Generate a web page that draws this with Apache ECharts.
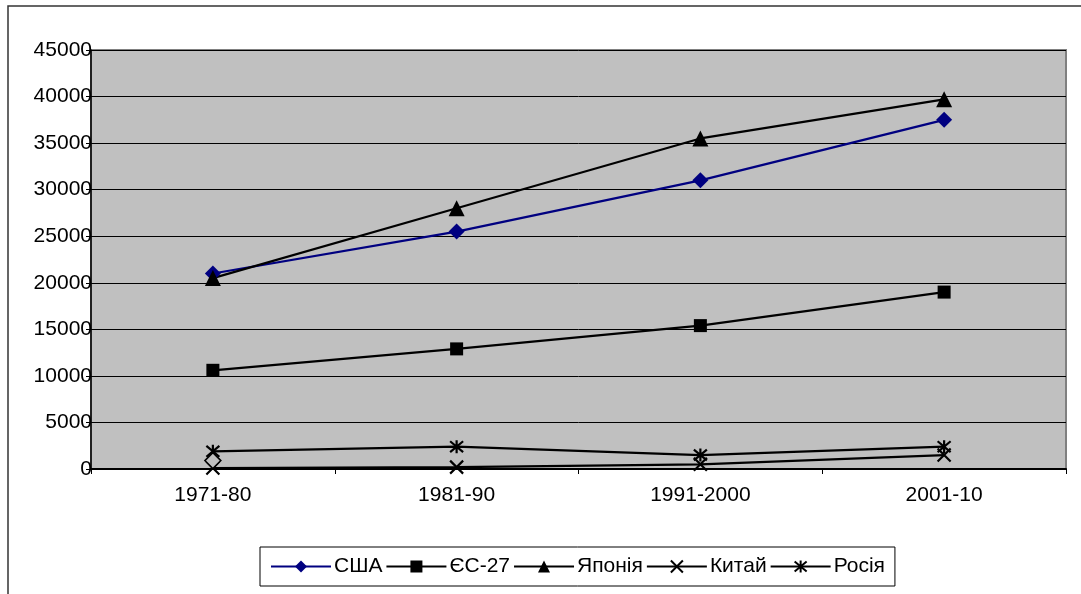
<!DOCTYPE html>
<html>
<head>
<meta charset="utf-8">
<script src="https://cdn.jsdelivr.net/npm/echarts@6/dist/echarts.min.js"></script>
<style>
  html, body { margin: 0; padding: 0; background: #fff; }
  #chart { width: 1081px; height: 594px; }
</style>
</head>
<body>
<div id="chart"></div>
<script>
// periods on the x axis
var periods = ["1971-80", "1981-90", "1991-2000", "2001-10"];
var yTicks = [0, 45000, 5000]; // min, max, step

var usaData = [21000, 25500, 31000, 37500];
var euData = [10600, 12900, 15400, 19000];
var japanData = [20500, 28000, 35500, 39700];
var chinaData = [100, 200, 500, 1500];
var russiaData = [1900, 2400, 1500, 2400];
// stray hollow marker near the first period
var strayPoint = [900, null, null, null];

var FONT = "'Liberation Sans', Arial, sans-serif";
var crossPath = "path://M0,0L10,10M10,0L0,10";
var starPath = "path://M0,0L10,10M10,0L0,10M5,-1L5,11";

function lineSeries(name, data, color, symbol, size, stroked) {
  return {
    name: name,
    type: "line",
    data: data,
    symbol: symbol,
    symbolSize: size,
    showAllSymbol: true,
    animation: false,
    lineStyle: { color: color, width: 2.2 },
    itemStyle: stroked
      ? { color: color, borderColor: color, borderWidth: 2.2 }
      : { color: color, borderWidth: 0 },
    emphasis: { disabled: true }
  };
}

var chart = echarts.init(document.getElementById("chart"));
chart.setOption({
  backgroundColor: "#fff",
  textStyle: { fontFamily: FONT },
  graphic: [
    {
      type: "rect",
      shape: { x: 8, y: 6, width: 2000, height: 2000 },
      style: { fill: "none", stroke: "#333", lineWidth: 1.5 },
      silent: true,
      z: 0
    }
  ],
  grid: {
    left: 91,
    right: 15,
    top: 50,
    bottom: 125,
    show: true,
    backgroundColor: "#c0c0c0",
    borderColor: "#808080",
    borderWidth: 2
  },
  legend: {
    left: 260,
    top: 547,
    data: ["США", "ЄС-27", "Японія", "Китай", "Росія"],
    itemWidth: 60,
    itemHeight: 15,
    itemGap: 3,
    padding: [9, 10, 9, 10],
    borderColor: "#000",
    borderWidth: 1,
    selectedMode: false,
    textStyle: { fontFamily: FONT, fontSize: 21, color: "#000", padding: [2, 0, 0, -2] }
  },
  xAxis: {
    type: "category",
    data: periods,
    boundaryGap: true,
    axisLine: { lineStyle: { color: "#000", width: 2 } },
    axisTick: { show: true, length: 5, lineStyle: { color: "#000" } },
    axisLabel: { color: "#000", fontSize: 21, fontFamily: FONT, margin: 16 },
    splitLine: { show: false }
  },
  yAxis: {
    type: "value",
    min: yTicks[0],
    max: yTicks[1],
    interval: yTicks[2],
    axisLine: { show: true, lineStyle: { color: "#000", width: 1.5 } },
    axisTick: { show: true, length: 5, lineStyle: { color: "#000" } },
    axisLabel: {
      color: "#000",
      fontSize: 21,
      fontFamily: FONT,
      margin: -1,
      formatter: function (v) { return String(v); }
    },
    splitLine: { show: true, lineStyle: { color: "#000", width: 1 } }
  },
  series: [
    lineSeries("США", usaData, "#000080", "diamond", 16, false),
    lineSeries("ЄС-27", euData, "#000", "rect", 13, false),
    lineSeries("Японія", japanData, "#000", "triangle", 16, false),
    lineSeries("Китай", chinaData, "#000", crossPath, 13, true),
    lineSeries("Росія", russiaData, "#000", starPath, 13, true),
    {
      name: "stray",
      type: "line",
      data: strayPoint,
      symbol: "diamond",
      symbolSize: 16,
      animation: false,
      lineStyle: { width: 0 },
      itemStyle: { color: "#c0c0c0", borderColor: "#000", borderWidth: 1.5 }
    }
  ]
});
</script>
</body>
</html>
